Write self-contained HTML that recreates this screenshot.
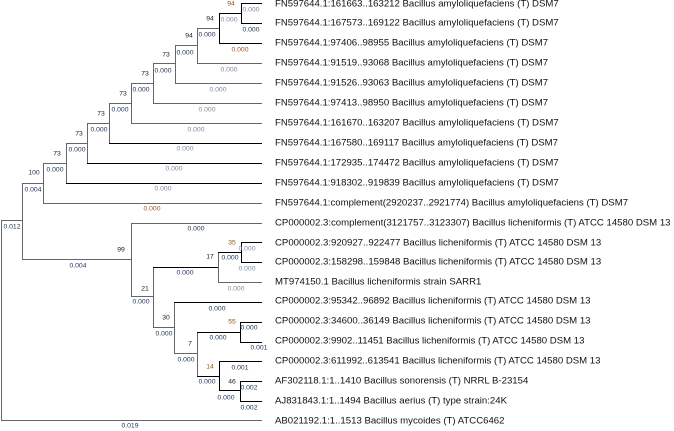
<!DOCTYPE html>
<html><head><meta charset="utf-8"><style>
html,body{margin:0;padding:0;background:#fff;}
svg{display:block;}
.l{font-family:"Liberation Sans",Arial,sans-serif;font-size:9.6px;fill:#111;dominant-baseline:central;}
.b{font-family:"Liberation Sans",Arial,sans-serif;font-size:6.8px;fill:#222;text-anchor:middle;dominant-baseline:central;}
.n{fill:#1a2e5a}.g{fill:#7a8aa0}.r{fill:#a0522d}.o{fill:#8a5a10}
</style></head><body>
<svg width="674" height="431" viewBox="0 0 674 431" xmlns="http://www.w3.org/2000/svg">
<g fill="none" stroke-width="1" shape-rendering="crispEdges">
<g stroke="#666">
<!-- root -->
<path d="M1.5 220V420M1 220.5H22M1 420.5H262"/>
<path d="M22.5 183V259"/>
<path d="M22 183.5H43M22 259.5H131"/>
<path d="M43.5 163V203M43 203.5H262M43 163.5H66"/>
<path d="M66.5 143V183M66 143.5H87"/>
<path d="M87.5 123V163M87 123.5H109"/>
<path d="M109.5 103V143M109 103.5H131"/>
<path d="M131.5 83V123M131 83.5H153M131 123.5H262"/>
<path d="M153.5 63V103M153 103.5H262M153 63.5H175"/>
<path d="M175.5 45V83M175 83.5H262M175 45.5H197"/>
<path d="M197.5 28V63M197 63.5H262M197 28.5H219"/>
<!-- lower -->
<path d="M131.5 223V296M131 223.5H262M131 296.5H153"/>
<path d="M153.5 267V327M153 327.5H175"/>
<path d="M218.5 252V282M218 282.5H262"/>
<path d="M174.5 302V353M174 353.5H197"/>
<path d="M197.5 332V376"/>
</g>
<g stroke="#000">
<path d="M241.5 3V23M241 3.5H262M241 23.5H262"/>
<path d="M219.5 13V43M219 13.5H241M219 43.5H262"/>
<path d="M66 183.5H262M87 163.5H262M109 143.5H262"/>
<path d="M153 267.5H218M218 252.5H241M241.5 242V262M241 242.5H262M241 262.5H262"/>
<path d="M174 302.5H262M197 332.5H240M240.5 322V342M240 322.5H262M240 342.5H262"/>
<path d="M197 376.5H219M219.5 361V390M219 361.5H262M219 390.5H240M240.5 381V401M240 381.5H262M240 401.5H262"/>
</g>
</g>
<!-- bootstrap -->
<text class="b o" x="231" y="4">94</text>
<text class="b" x="210" y="19">94</text>
<text class="b" x="189" y="36">94</text>
<text class="b" x="166" y="55">73</text>
<text class="b" x="145" y="74">73</text>
<text class="b" x="123" y="94">73</text>
<text class="b" x="101" y="114">73</text>
<text class="b" x="79" y="134">73</text>
<text class="b" x="57" y="154">73</text>
<text class="b n" x="34" y="173">100</text>
<text class="b" x="121" y="250">99</text>
<text class="b o" x="232" y="243">35</text>
<text class="b" x="210" y="257">17</text>
<text class="b" x="145" y="289">21</text>
<text class="b" x="166" y="318">30</text>
<text class="b o" x="232" y="322">55</text>
<text class="b" x="190" y="344">7</text>
<text class="b o" x="210" y="367">14</text>
<text class="b" x="232" y="382">46</text>
<!-- branch lengths -->
<text class="b g" x="251" y="10">0.000</text>
<text class="b n" x="251" y="30">0.000</text>
<text class="b r" x="240" y="50">0.000</text>
<text class="b g" x="229" y="70">0.000</text>
<text class="b g" x="218" y="90">0.000</text>
<text class="b g" x="207" y="110">0.000</text>
<text class="b g" x="196" y="130">0.000</text>
<text class="b g" x="185" y="149">0.000</text>
<text class="b g" x="174" y="169">0.000</text>
<text class="b g" x="163" y="189">0.000</text>
<text class="b r" x="152" y="209">0.000</text>
<text class="b g" x="229" y="20">0.000</text>
<text class="b n" x="207" y="35">0.000</text>
<text class="b n" x="185" y="53">0.000</text>
<text class="b n" x="163" y="71">0.000</text>
<text class="b n" x="141" y="90">0.000</text>
<text class="b n" x="120" y="110">0.000</text>
<text class="b n" x="99" y="130">0.000</text>
<text class="b n" x="77" y="150">0.000</text>
<text class="b n" x="55" y="170">0.000</text>
<text class="b n" x="33" y="190">0.004</text>
<text class="b n" x="12" y="227">0.012</text>
<text class="b n" x="196" y="229">0.000</text>
<text class="b n" x="78" y="266">0.004</text>
<text class="b g" x="247" y="249">0.000</text>
<text class="b n" x="230" y="258">0.000</text>
<text class="b g" x="247" y="269">0.000</text>
<text class="b n" x="185" y="273">0.000</text>
<text class="b g" x="236" y="289">0.000</text>
<text class="b n" x="141" y="302">0.000</text>
<text class="b n" x="217" y="309">0.000</text>
<text class="b n" x="164" y="334">0.000</text>
<text class="b n" x="249" y="328">0.000</text>
<text class="b n" x="218" y="338">0.000</text>
<text class="b n" x="259" y="348">0.001</text>
<text class="b n" x="186" y="360">0.000</text>
<text class="b n" x="240" y="368">0.001</text>
<text class="b n" x="207" y="382">0.000</text>
<text class="b n" x="249" y="388">0.002</text>
<text class="b n" x="226" y="398">0.000</text>
<text class="b n" x="249" y="408">0.002</text>
<text class="b n" x="130" y="426">0.019</text>
<!-- leaf labels -->
<text class="l" x="275" y="4">FN597644.1:161663..163212 Bacillus amyloliquefaciens (T) DSM7</text>
<text class="l" x="275" y="23">FN597644.1:167573..169122 Bacillus amyloliquefaciens (T) DSM7</text>
<text class="l" x="275" y="43">FN597644.1:97406..98955 Bacillus amyloliquefaciens (T) DSM7</text>
<text class="l" x="275" y="63">FN597644.1:91519..93068 Bacillus amyloliquefaciens (T) DSM7</text>
<text class="l" x="275" y="83">FN597644.1:91526..93063 Bacillus amyloliquefaciens (T) DSM7</text>
<text class="l" x="275" y="103">FN597644.1:97413..98950 Bacillus amyloliquefaciens (T) DSM7</text>
<text class="l" x="275" y="123">FN597644.1:161670..163207 Bacillus amyloliquefaciens (T) DSM7</text>
<text class="l" x="275" y="143">FN597644.1:167580..169117 Bacillus amyloliquefaciens (T) DSM7</text>
<text class="l" x="275" y="163">FN597644.1:172935..174472 Bacillus amyloliquefaciens (T) DSM7</text>
<text class="l" x="275" y="183">FN597644.1:918302..919839 Bacillus amyloliquefaciens (T) DSM7</text>
<text class="l" x="275" y="203">FN597644.1:complement(2920237..2921774) Bacillus amyloliquefaciens (T) DSM7</text>
<text class="l" x="275" y="223">CP000002.3:complement(3121757..3123307) Bacillus licheniformis (T) ATCC 14580 DSM 13</text>
<text class="l" x="275" y="243">CP000002.3:920927..922477 Bacillus licheniformis (T) ATCC 14580 DSM 13</text>
<text class="l" x="275" y="262">CP000002.3:158298..159848 Bacillus licheniformis (T) ATCC 14580 DSM 13</text>
<text class="l" x="275" y="282">MT974150.1 Bacillus licheniformis strain SARR1</text>
<text class="l" x="275" y="301">CP000002.3:95342..96892 Bacillus licheniformis (T) ATCC 14580 DSM 13</text>
<text class="l" x="275" y="321">CP000002.3:34600..36149 Bacillus licheniformis (T) ATCC 14580 DSM 13</text>
<text class="l" x="275" y="341">CP000002.3:9902..11451 Bacillus licheniformis (T) ATCC 14580 DSM 13</text>
<text class="l" x="275" y="361">CP000002.3:611992..613541 Bacillus licheniformis (T) ATCC 14580 DSM 13</text>
<text class="l" x="275" y="381">AF302118.1:1..1410 Bacillus sonorensis (T) NRRL B-23154</text>
<text class="l" x="275" y="401">AJ831843.1:1..1494 Bacillus aerius (T) type strain:24K</text>
<text class="l" x="275" y="421">AB021192.1:1..1513 Bacillus mycoides (T) ATCC6462</text>
</svg>
</body></html>
